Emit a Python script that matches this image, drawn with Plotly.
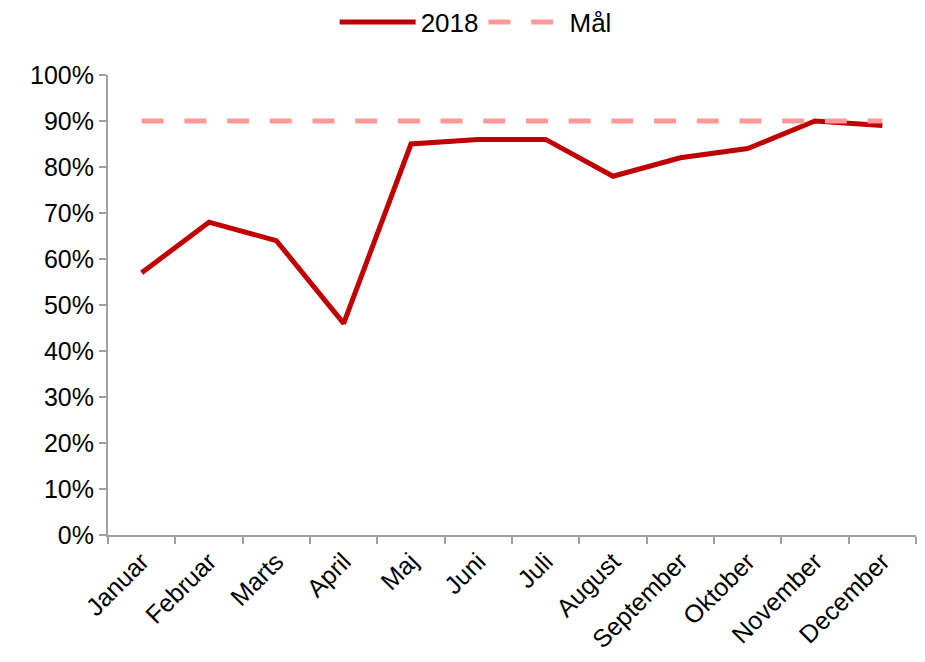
import plotly.graph_objects as go

# ── Data ──────────────────────────────────────────────────────────────────────
months = ["Januar", "Februar", "Marts", "April", "Maj", "Juni", "Juli",
          "August", "September", "Oktober", "November", "December"]
values_2018 = [0.57, 0.68, 0.64, 0.46, 0.85, 0.86, 0.86, 0.78, 0.82, 0.84, 0.90, 0.89]
target = [0.90] * len(months)

FONT = dict(family="Liberation Sans, Arial, sans-serif", size=25, color="black")
AXIS_GREY = "#A0A0A0"

fig = go.Figure()
fig.add_trace(go.Scatter(
    x=months, y=values_2018, name="2018", mode="lines",
    line=dict(color="#C00000", width=5),
))
fig.add_trace(go.Scatter(
    x=months, y=target, name="Mål", mode="lines",
    line=dict(color="#FF9999", width=5, dash="22px,20.7px"),
))

# the page body adds an 8px offset, so margins are shifted to compensate
fig.update_layout(
    width=925, height=662,
    paper_bgcolor="white", plot_bgcolor="white",
    font=FONT,
    margin=dict(l=100, r=17, t=67, b=135, autoexpand=False),
    legend=dict(orientation="h", x=0.455, xanchor="center", y=1.115,
                yanchor="middle", font=dict(FONT, size=26),
                itemwidth=76, traceorder="normal"),
    xaxis=dict(
        range=[-0.5, 11.5], automargin=False,
        showgrid=False, showline=True, linecolor=AXIS_GREY, linewidth=2,
        ticks="outside", tickson="boundaries", ticklen=7, tickcolor=AXIS_GREY,
        tickwidth=2, tickangle=-45, tickfont=FONT,
    ),
    yaxis=dict(
        range=[0, 1], dtick=0.1, tickformat=".0%", automargin=False,
        showgrid=False, showline=True, linecolor=AXIS_GREY, linewidth=2,
        ticks="outside", ticklen=7, tickcolor=AXIS_GREY, tickwidth=2,
        tickfont=FONT, zeroline=False,
    ),
)

fig.write_html("out.html")
